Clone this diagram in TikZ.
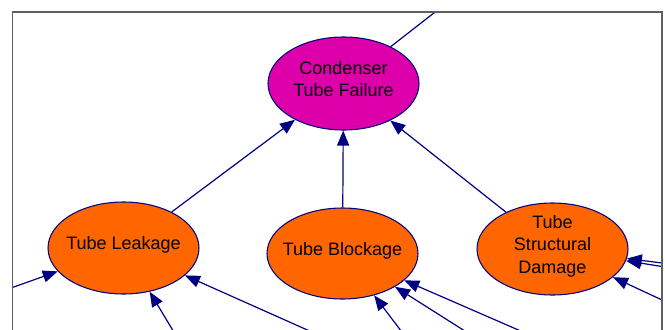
\documentclass[tikz,border=0pt]{standalone}
\usepackage{fontspec}
\setmainfont{Liberation Sans}
\usetikzlibrary{arrows.meta,shapes.geometric}
\definecolor{edgenavy}{RGB}{0,0,128}
\definecolor{rootfill}{RGB}{221,0,170}
\definecolor{causefill}{RGB}{255,102,0}
\definecolor{framegrey}{RGB}{95,95,95}

% event label: stacked lines that do not grow the ellipse
\newcommand{\evtext}[1]{\smash{\makebox[0pt]{\raisebox{-1.6pt}{\begin{tabular}{@{}c@{}}#1\end{tabular}}}}}

\begin{document}
\begin{tikzpicture}[x=0.75pt,y=-0.75pt,
  event/.style={ellipse, draw=edgenavy, line width=0.8pt, inner sep=0pt,
    text=black, font=\fontsize{13.5}{16.8}\selectfont},
  rootevent/.style={event, fill=rootfill},
  cause/.style={event, fill=causefill},
  wire/.style={draw=edgenavy, line width=0.9pt},
  link/.style={wire, -{Triangle[length=11.25pt,width=9pt]}}]

\useasboundingbox (0,0) rectangle (665,329);

\begin{scope}
  \clip (12.5,12) rectangle (662,345);

  % events
  \node[rootevent, minimum width=113.25pt, minimum height=69.75pt] (cond) at (343.5,83.5)
    {\evtext{Condenser\\Tube Failure}};
  \node[cause, minimum width=113.25pt, minimum height=69pt] (leak) at (123.5,248)
    {\evtext{Tube Leakage}};
  \node[cause, minimum width=113.25pt, minimum height=68.25pt] (block) at (342.5,253.5)
    {\evtext{Tube Blockage}};
  \node[cause, minimum width=113.25pt, minimum height=69pt] (struct) at (552.5,249)
    {\evtext{Tube\\Structural\\Damage}};

  % loose ends of edges running out of view
  \coordinate (up)  at (480,-23);
  \coordinate (l1)  at (-20,299);
  \coordinate (l2)  at (184,349);
  \coordinate (l3)  at (341,345);
  \coordinate (b1)  at (417,352);
  \coordinate (b2)  at (498,352);
  \coordinate (b3)  at (569,352);
  \coordinate (s1)  at (690,266.6);
  \coordinate (s2)  at (690,271);
  \coordinate (s3)  at (690,313);

  % edges between events
  \draw[wire] (cond) -- (up);
  \draw[link] (leak) -- (cond);
  \draw[link] (block) -- (cond);
  \draw[link] (struct) -- (cond);

  % incoming edges
  \draw[link] (l1) -- (leak);
  \draw[link] (l2) -- (leak);
  \draw[link] (l3) -- (leak);
  \draw[link] (b1) -- (block);
  \draw[link] (b2) -- (block);
  \draw[link] (b3) -- (block);
  \draw[link] (s1) -- (struct);
  \draw[link] (s2) -- (struct);
  \draw[link] (s3) -- (struct);
\end{scope}

% viewport frame
\draw[framegrey, line width=1.1pt] (12.5,345) -- (12.5,12) -- (662,12) -- (662,345);
\end{tikzpicture}
\end{document}
